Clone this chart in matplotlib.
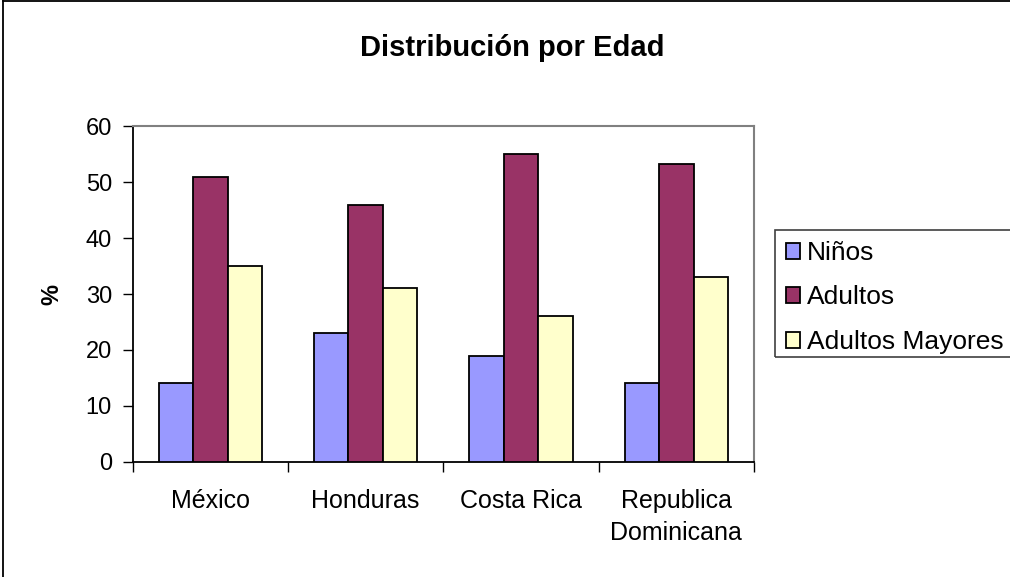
import matplotlib
matplotlib.use("Agg")
import matplotlib.pyplot as plt
import numpy as np
from matplotlib.lines import Line2D
from matplotlib.patches import Rectangle

plt.rcParams['font.family'] = ['Liberation Sans', 'DejaVu Sans']

paises = ["México", "Honduras", "Costa Rica", "Republica\nDominicana"]
series = ["Niños", "Adultos", "Adultos Mayores"]
ninos = [14, 23, 19, 14]
adultos = [51, 46, 55, 53.3]
mayores = [35, 31, 26, 33]
colores = ["#9999FF", "#993366", "#FFFFCC"]
y_ticks = [0, 10, 20, 30, 40, 50, 60]

fig = plt.figure(figsize=(10.1, 5.77), dpi=100)
ax = fig.add_axes([0.1314, 0.1998, 0.6151, 0.5813])

x = np.arange(len(paises))
w = 0.222
for i, (vals, nombre, c) in enumerate(zip([ninos, adultos, mayores], series, colores)):
    ax.bar(x + (i - 1) * w, vals, width=w, color=c, edgecolor="black",
           linewidth=1.3, label=nombre, zorder=3)

ax.set_xlim(-0.5, len(paises) - 0.5)
ax.set_ylim(0, 60)
ax.set_yticks(y_ticks)
ax.tick_params(axis="y", labelsize=17, length=7, width=1, pad=8, direction="out")
ax.set_xticks(np.arange(len(paises) + 1) - 0.5)
ax.set_xticklabels([])
ax.set_xticks(x, minor=True)
ax.set_xticklabels(paises, minor=True, fontsize=18, linespacing=1.45)
ax.tick_params(axis="x", which="minor", length=0, pad=19.5)
ax.tick_params(axis="x", which="major", length=7, width=1, direction="out")

for s in ["top", "right"]:
    ax.spines[s].set_color("#808080")
    ax.spines[s].set_linewidth(1.5)
for s in ["left", "bottom"]:
    ax.spines[s].set_color("black")
    ax.spines[s].set_linewidth(1.3)

ax.set_ylabel("%", fontsize=17, fontweight="bold", labelpad=16)

fig.text(0.507, 0.917, "Distribución por Edad", ha="center", va="center",
         fontsize=21, fontweight="bold")

leg = ax.legend(loc="upper left", bbox_to_anchor=(778 / 1010, 1 - 233 / 577),
                bbox_transform=fig.transFigure, fontsize=19, frameon=False,
                handlelength=0.55, handleheight=0.55, handletextpad=0.25,
                labelspacing=0.78, borderpad=0.3, borderaxespad=0)

# Legend frame running past the right edge of the figure
fig.add_artist(Rectangle((775 / 1010, 1 - 357 / 577), 260 / 1010, 127 / 577,
                         transform=fig.transFigure, fill=False,
                         edgecolor="#404040", linewidth=1.2))

# Border along the top and left edges of the figure
fig.add_artist(Line2D([0.003, 0.003], [0.0, 0.998], transform=fig.transFigure,
                      color="black", linewidth=1.3))
fig.add_artist(Line2D([0.003, 1.0], [0.998, 0.998], transform=fig.transFigure,
                      color="black", linewidth=1.3))

fig.savefig("out.png", dpi=100, facecolor="white")
